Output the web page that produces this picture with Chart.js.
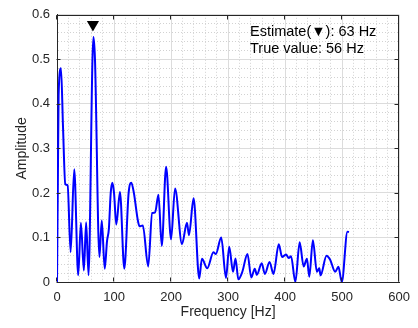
<!DOCTYPE html>
<html>
<head>
<meta charset="utf-8">
<script src="https://cdn.jsdelivr.net/npm/chart.js@4.4.0/dist/chart.umd.min.js"></script>
<style>
  html, body { margin: 0; padding: 0; background: #fff; }
  #wrap { width: 418px; height: 328px; }
</style>
</head>
<body>
<div id="wrap"><canvas id="myChart"></canvas></div>
<script>
// spectrum
const freqs = [0, 1.5, 2.8, 7, 10.5, 14.5, 18.6, 23.9, 30.2, 37.2, 41.9, 47.1, 51.1, 55.3, 62.2, 64, 66.6, 74.4, 78.5, 83.7, 87.7, 91,
  94.2, 97.1, 100, 104, 110.4, 118, 125.6, 130.3, 134.8, 141.8, 144.8, 150.5, 159.9, 166.9, 172, 177.9, 183.7, 191.3, 200, 207, 219.2, 227.9, 231.4, 239.5,
  249.4, 254.1, 263.5, 274.3, 278.5, 288, 296.3, 302, 308.7, 313, 318, 325, 334, 340.7, 346.8, 350.5, 359, 364.5, 372.7,
  379.6, 388.9, 394.7, 401.6, 406.4, 410.4, 418, 425.5, 432.5, 438.3, 442.4, 448.7, 455.7, 459.9, 462.2, 472.6, 479, 487.8,
  493.5, 499.4, 509.3, 512];
const amps = [0, 0.22, 0.42, 0.48, 0.35, 0.22, 0.217, 0.067, 0.253, 0.015, 0.133, 0.026, 0.134, 0.015, 0.5, 0.55, 0.5, 0.056, 0.138, 0.03, 0.092, 0.12,
  0.2, 0.223, 0.2, 0.129, 0.202, 0.03, 0.2, 0.223, 0.2, 0.138, 0.125, 0.127, 0.035, 0.155, 0.156, 0.196, 0.081, 0.259, 0.096, 0.21, 0.085, 0.133, 0.105, 0.188,
  0.008, 0.052, 0.031, 0.067, 0.063, 0.1, 0.009, 0.079, 0.023, 0.053, 0.006, 0.023, 0.063, 0.01, 0.03, 0.016, 0.042, 0.018, 0.045,
  0.018, 0.085, 0.056, 0.062, 0.054, 0.058, 0, 0.089, 0.035, 0.052, 0.012, 0.094, 0.023, 0.031, 0.015, 0.059, 0.05, 0.023,
  0.034, 0, 0.113, 0.112];

const markerFreq = [63];
const markerAmp = [0.578];

const xLabels = [0, 100, 200, 300, 400, 500, 600];
const yLabels = [0, 0.1, 0.2, 0.3, 0.4, 0.5, 0.6];
const noteLines = ['Estimate(\u25BC): 63 Hz', 'True value: 56 Hz'];

const FONT = 'Liberation Sans, Arial, sans-serif';
const AXIS = '#262626';

function isMajor(v, step) {
  const r = v / step;
  return Math.abs(r - Math.round(r)) < 1e-6;
}

// box, inward ticks and text note
const extras = {
  id: 'extras',
  afterDraw(chart) {
    const ctx = chart.ctx;
    const a = chart.chartArea;
    const xs = chart.scales.x, ys = chart.scales.y;
    ctx.save();
    ctx.strokeStyle = AXIS;
    ctx.lineWidth = 1;
    ctx.beginPath();
    const L = Math.round(a.left) - 0.5, R = Math.round(a.right) - 0.5;
    const T = Math.round(a.top) + 0.5, B = Math.round(a.bottom) - 0.5;
    ctx.moveTo(L, T); ctx.lineTo(R, T); ctx.lineTo(R, B);
    xLabels.forEach(v => {
      const px = Math.round(xs.getPixelForValue(v)) - 0.5;
      ctx.moveTo(px, B); ctx.lineTo(px, B - 4);
      ctx.moveTo(px, T); ctx.lineTo(px, T + 4);
    });
    yLabels.forEach(v => {
      const py = Math.round(ys.getPixelForValue(v)) + 0.5;
      ctx.moveTo(L, py); ctx.lineTo(L + 4, py);
      ctx.moveTo(R, py); ctx.lineTo(R - 4, py);
    });
    ctx.stroke();
    ctx.fillStyle = '#000';
    ctx.font = '14.5px ' + FONT;
    ctx.textBaseline = 'middle';
    ctx.textAlign = 'left';
    ctx.fillText(noteLines[0], 250, 32);
    ctx.fillText(noteLines[1], 250, 49);
    ctx.restore();
  }
};

const ctx = document.getElementById('myChart');
new Chart(ctx, {
  type: 'line',
  data: {
    datasets: [{
      data: freqs.map((f, i) => ({x: f, y: amps[i]})),
      borderColor: '#0000ff',
      borderWidth: 2,
      pointRadius: 0,
      cubicInterpolationMode: 'monotone',
      fill: false
    }, {
      data: markerFreq.map((f, i) => ({x: f, y: markerAmp[i]})),
      showLine: false,
      pointStyle: 'triangle',
      rotation: 180,
      pointRadius: 7,
      backgroundColor: '#000',
      borderColor: '#000',
      borderWidth: 0
    }]
  },
  options: {
    animation: false,
    responsive: true,
    maintainAspectRatio: false,
    devicePixelRatio: 1,
    layout: { padding: { top: 9, right: 16, left: 0, bottom: 0 } },
    plugins: { legend: { display: false }, tooltip: { enabled: false } },
    scales: {
      x: {
        type: 'linear',
        min: 0, max: 600,
        afterFit: s => { s.height = 46; },
        ticks: {
          stepSize: 20, autoSkip: false, maxRotation: 0, padding: 8,
          color: AXIS, font: { family: FONT, size: 13 },
          callback: v => isMajor(v, 100) ? String(Math.round(v)) : ''
        },
        grid: {
          drawTicks: false,
          color: c => c.tick && isMajor(c.tick.value, 100) ? '#dcdcdc' : '#d2d2d2',
          lineWidth: 1
        },
        border: {
          color: AXIS, width: 1,
          dash: c => c.tick && !isMajor(c.tick.value, 100) ? [1, 2] : []
        },
        title: { display: true, text: 'Frequency [Hz]', color: AXIS, font: { family: FONT, size: 14 }, padding: { top: 0, bottom: 7 } }
      },
      y: {
        min: 0, max: 0.6,
        afterFit: s => { s.width = 57; },
        ticks: {
          stepSize: 0.02, autoSkip: false, padding: 7,
          color: AXIS, font: { family: FONT, size: 13 },
          callback: v => isMajor(v, 0.1) ? String(Math.round(v * 10) / 10) : ''
        },
        grid: {
          drawTicks: false,
          color: c => c.tick && isMajor(c.tick.value, 0.1) ? '#dcdcdc' : '#d2d2d2',
          lineWidth: 1
        },
        border: {
          color: AXIS, width: 1,
          dash: c => c.tick && !isMajor(c.tick.value, 0.1) ? [1, 2] : []
        },
        title: { display: true, text: 'Amplitude', color: AXIS, font: { family: FONT, size: 14 }, padding: { top: 14, bottom: 0 } }
      }
    }
  },
  plugins: [extras]
});
</script>
</body>
</html>
